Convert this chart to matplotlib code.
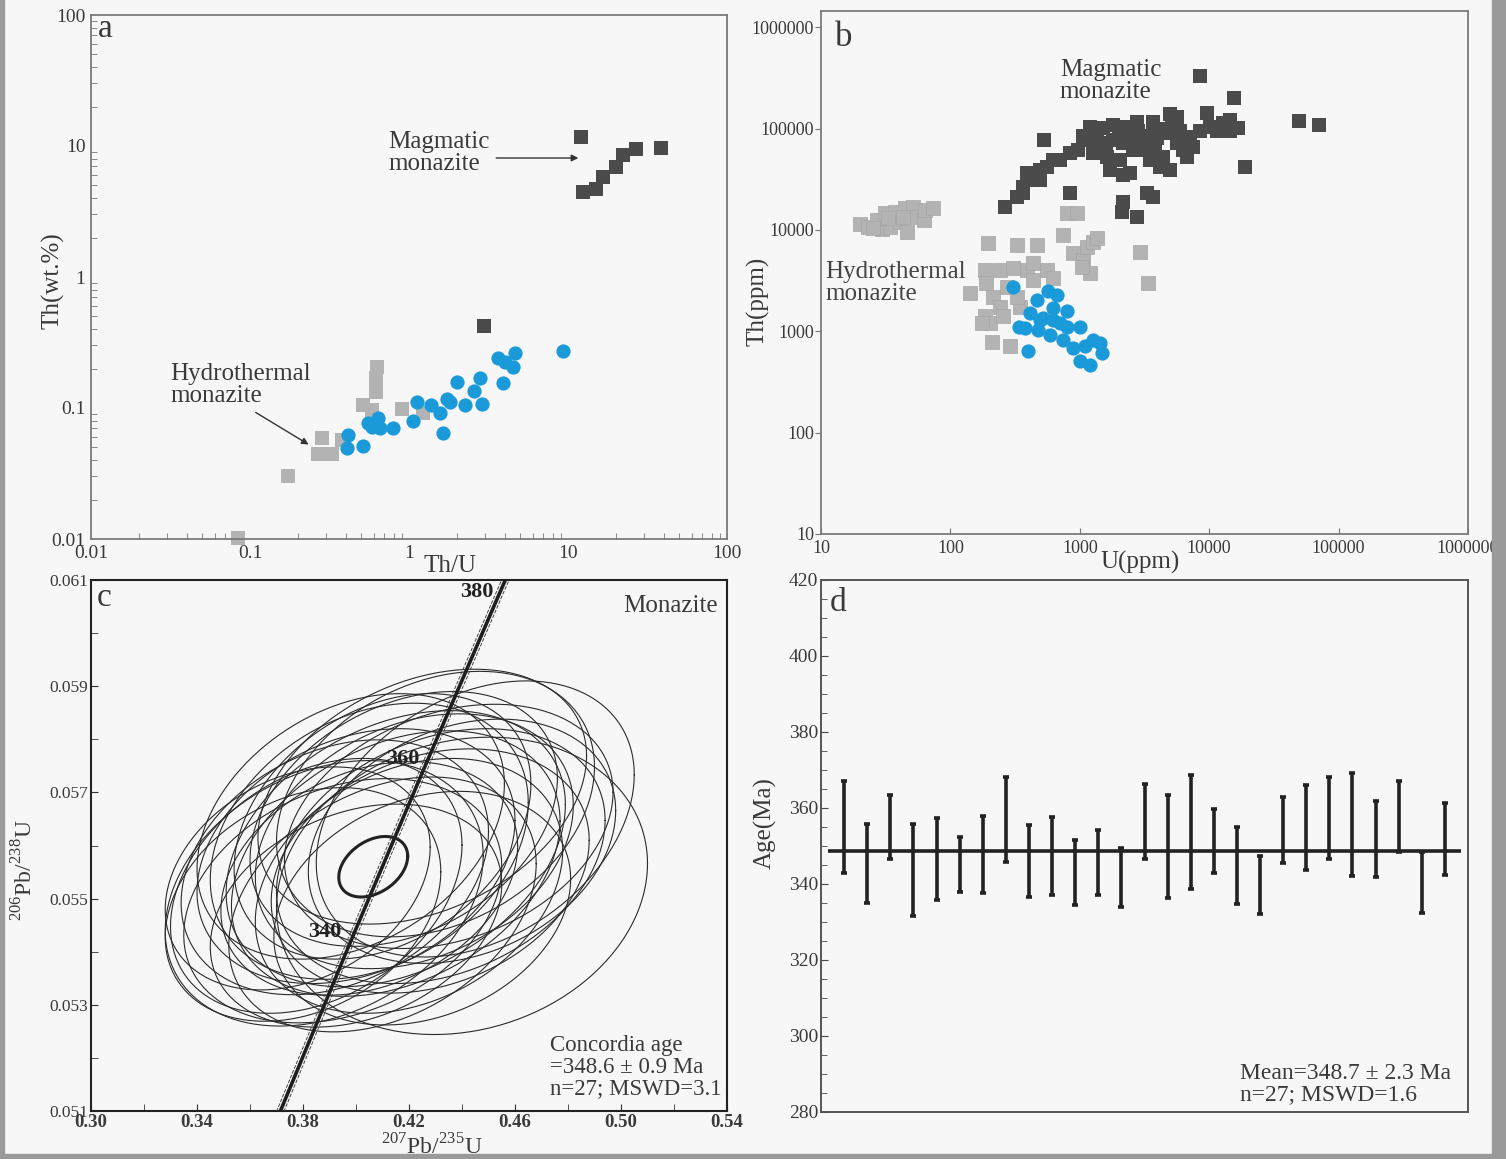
import numpy as np
import matplotlib
matplotlib.use('Agg')
import matplotlib.pyplot as plt
from matplotlib.patches import Rectangle
from matplotlib.ticker import FixedLocator, FixedFormatter, NullFormatter, NullLocator

plt.rcParams['font.family'] = ['Liberation Serif', 'DejaVu Serif']
plt.rcParams['mathtext.fontset'] = 'custom'
plt.rcParams['mathtext.rm'] = 'Liberation Serif'

# ---- panel a : Th/U vs Th(wt.%)
a_mag_thu = [12.1, 12.4, 14.9, 16.7, 19.9, 22.3, 26.9, 38.5, 2.97]
a_mag_th = [11.7, 4.43, 4.72, 5.82, 6.97, 8.47, 9.47, 9.66, 0.421]
a_hyd_thu = [0.084, 0.174, 0.269, 0.327, 0.282, 0.377, 0.627, 0.620, 0.620, 0.516, 0.582, 0.900, 1.23]
a_hyd_th = [0.0102, 0.0303, 0.0446, 0.0446, 0.0588, 0.057, 0.2066, 0.1694, 0.133, 0.1054, 0.0966, 0.0982, 0.0911]
a_blue_thu = [0.415, 0.406, 0.511, 0.555, 0.641, 0.582, 0.658, 0.791, 1.055, 1.117, 1.37, 1.57, 1.63,
              1.73, 1.81, 2.25, 2.01, 2.56, 2.80, 2.89, 3.88, 3.65, 4.02, 4.64, 4.53, 9.27]
a_blue_th = [0.0622, 0.0492, 0.0513, 0.0764, 0.0834, 0.0719, 0.0699, 0.0699, 0.080, 0.1117, 0.1054, 0.091, 0.0641,
             0.1165, 0.1116, 0.1054, 0.159, 0.1355, 0.1686, 0.1074, 0.156, 0.239, 0.225, 0.264, 0.2065, 0.2735]

# ---- panel b : U(ppm) vs Th(ppm)
b_mag_u = [264, 325, 366, 389, 437, 492, 555, 624, 703, 839, 973, 366, 492,
           532, 839, 2170, 2130, 2750, 3700, 3290, 8490, 15600, 18900, 49700, 70500,
           1200, 1520, 1816, 2300, 2750, 3700, 4980, 5600, 9570, 12860, 14480, 16790,
           1200, 1432, 1816, 2169, 2589, 3097, 3930, 4700, 5600, 7110, 8490, 11430, 14480, 1064,
           1272, 1615, 2046, 2442, 1713, 2169, 3490, 4170, 4980, 6700, 6310, 4420, 3290, 7540, 10150,
           1350, 2000, 2800, 3300, 4200, 1600, 2600, 3800, 5200, 6000]
b_mag_th = [17000, 21300, 26700, 36200, 31100, 39000, 42000, 49000, 49000, 57000, 61400, 23000, 31100,
            77100, 23300, 19000, 15100, 13500, 21300, 22900, 329000, 199000, 41500, 118000, 109000,
            104000, 101000, 108000, 104000, 117000, 117000, 140000, 131000, 141000, 112500, 121000, 101000,
            77100, 71500, 77100, 71500, 77100, 71500, 80500, 89700, 71500, 83000, 95000, 95000, 95000, 84700,
            57000, 52700, 49000, 36200, 39000, 34700, 49000, 42000, 39000, 52700, 61400, 52700, 61400, 66300, 104000,
            90000, 90000, 95000, 85000, 100000, 64000, 62000, 62000, 110000, 95000]
b_hyd_u = [20.0, 23.2, 26.9, 29.5, 31.2, 34.1, 37.3, 40.8, 44.6, 45.9, 51.6, 53.2, 62.3, 63.5, 73.8, 25.4, 33.1, 43.3,
           196, 325, 471, 747, 794, 946, 142, 185, 190, 214, 185, 202, 208, 289, 242, 306, 389, 272, 242, 345,
           325, 256, 437, 555, 624, 175, 891, 1064, 1130, 1272, 1199, 1035, 1352, 2918, 3390, 437]
b_hyd_th = [11500, 10800, 12500, 10100, 14600, 10800, 15100, 12100, 16400, 9620, 17000, 13500, 12500, 15700, 16400,
            10400, 13000, 13500,
            7400, 7110, 7110, 8930, 14600, 14600, 2380, 4030, 2990, 2200, 1400, 1210, 792, 708, 4030, 4200, 4030,
            2760, 1750, 1750, 2200, 1400, 3210, 4030, 3340, 1210, 5890, 5060, 6840, 7670, 3740, 4340, 8280, 6110,
            2990, 4700]
b_blue_u = [306, 465, 571, 663, 412, 624, 522, 792, 377, 478, 589, 703, 792, 1004, 747, 891, 1097, 1272, 1432,
            1476, 1004, 1199, 401, 492, 336, 624]
b_blue_th = [2760, 2040, 2470, 2290, 1510, 1690, 1350, 1570, 1080, 1035, 925, 1210, 1110, 1110, 825, 683, 708,
             825, 765, 610, 504, 467, 632, 1300, 1110, 1300]

# ---- panel c : concordia + ellipses (207Pb/235U, 206Pb/238U)
conc_x = [0.3714, 0.3977, 0.4255, 0.4539, 0.4612]
conc_y = [0.05099, 0.05416, 0.05743, 0.06072, 0.06155]
conc_ages = ['340', '360', '380']
conc_lab_x = [0.3883, 0.4177, 0.4457]
conc_lab_y = [0.05437, 0.05762, 0.06077]
ell_x = [0.425, 0.430, 0.418, 0.435, 0.410, 0.422, 0.440, 0.400, 0.415, 0.392, 0.428, 0.405, 0.385, 0.420,
         0.440, 0.395, 0.410, 0.380, 0.425, 0.400, 0.388, 0.415, 0.398, 0.432, 0.405, 0.378, 0.445]
ell_y = [0.05692, 0.05678, 0.05650, 0.05636, 0.05636, 0.05608, 0.05608, 0.05580, 0.05566, 0.05559, 0.05552,
         0.05538, 0.05524, 0.05524, 0.05524, 0.05496, 0.05489, 0.05489, 0.05482, 0.05468, 0.05510, 0.05594,
         0.05636, 0.05580, 0.05608, 0.05538, 0.05650]
ell_sx = [0.062, 0.060, 0.058, 0.062, 0.056, 0.060, 0.058, 0.060, 0.062, 0.058, 0.060, 0.056, 0.055, 0.058,
          0.070, 0.060, 0.058, 0.052, 0.056, 0.055, 0.060, 0.064, 0.058, 0.062, 0.060, 0.050, 0.060]
ell_sy = [0.0024, 0.0025, 0.0024, 0.0023, 0.0025, 0.0024, 0.0023, 0.0024, 0.0025, 0.0024, 0.0023, 0.0022,
          0.0024, 0.0024, 0.0028, 0.0023, 0.0024, 0.0022, 0.0022, 0.0021, 0.0025, 0.0026, 0.0025, 0.0024,
          0.0026, 0.0021, 0.0026]
ell_rho = [0.32, 0.28, 0.32, 0.28, 0.32, 0.28, 0.25, 0.28, 0.32, 0.28, 0.25, 0.28, 0.32, 0.28,
           0.15, 0.28, 0.32, 0.28, 0.25, 0.28, 0.28, 0.32, 0.32, 0.28, 0.28, 0.28, 0.32]
mean_ell = (0.4065, 0.05560, 0.013, 0.00057, 0.35)

# ---- panel d : weighted mean ages
d_hi = [367.0, 355.7, 363.5, 355.9, 357.4, 352.4, 358.0, 368.2, 355.6, 357.6, 351.7, 354.2, 349.5, 366.3,
        363.5, 368.6, 359.8, 354.9, 347.5, 363.0, 366.1, 368.2, 369.2, 361.8, 367.2, 348.5, 361.3]
d_lo = [343.0, 334.9, 346.7, 331.7, 335.7, 338.0, 337.7, 345.7, 336.7, 337.2, 334.4, 337.2, 334.0, 346.5,
        336.2, 338.6, 342.9, 334.7, 332.2, 345.5, 343.6, 346.5, 342.1, 341.8, 348.5, 332.5, 342.3]
d_mean = 348.7

W, H = 1506, 1159
BG = '#f7f7f7'
TXT = '#3a3a3a'
DARK = '#4b4b4b'
LIGHT = '#b3b3b3'
BLUE = '#1b9ad9'

fig = plt.figure(figsize=(W / 100, H / 100), dpi=100, facecolor=BG)


def box(l, t, r, b):
    ax = fig.add_axes([l / W, 1 - b / H, (r - l) / W, (b - t) / H])
    ax.set_facecolor(BG)
    return ax


# ================= a
ax = box(91, 15, 727, 539)
ax.set_xscale('log')
ax.set_yscale('log')
ax.set_xlim(0.01, 100)
ax.set_ylim(0.01, 100)
ax.scatter(a_hyd_thu, a_hyd_th, marker='s', s=105, color=LIGHT, lw=0, zorder=2, clip_on=False)
ax.scatter(a_mag_thu, a_mag_th, marker='s', s=105, color=DARK, lw=0, zorder=3)
ax.scatter(a_blue_thu, a_blue_th, marker='o', s=105, color=BLUE, lw=0, zorder=4)
dec = [0.01, 0.1, 1, 10, 100]
ax.xaxis.set_major_locator(FixedLocator(dec))
ax.xaxis.set_major_formatter(FixedFormatter(['0.01', '0.1', '1', '10', '100']))
ax.yaxis.set_major_locator(FixedLocator(dec))
ax.yaxis.set_major_formatter(FixedFormatter(['0.01', '0.1', '1', '10', '100']))
ax.xaxis.set_minor_formatter(NullFormatter())
ax.yaxis.set_minor_formatter(NullFormatter())
ax.tick_params(which='both', direction='in', top=False, right=False, colors='#777', labelcolor=TXT,
               labelsize=14)
ax.tick_params(which='major', length=0, pad=4)
ax.tick_params(which='minor', length=4)
for s in ax.spines.values():
    s.set_color('#7a7a7a')
    s.set_linewidth(1.3)
ax.set_xlabel('Th/U', fontsize=18, color=TXT)
ax.xaxis.set_label_coords(0.565, -0.031)
ax.set_ylabel('Th(wt.%)', fontsize=18, color=TXT)
ax.yaxis.set_label_coords(-0.041, 0.494)
ax.text(0.011, 0.958, 'a', transform=ax.transAxes, fontsize=24, color=TXT, va='baseline')
ax.text(0.74, 8.9, 'Magmatic\nmonazite', fontsize=18, color=TXT, va='center', linespacing=1.0)
ax.annotate('', xy=(12.1, 8.1), xytext=(3.4, 8.1),
            arrowprops=dict(arrowstyle='-|>', color='#333', lw=1.0, mutation_scale=10))
ax.text(0.0314, 0.150, 'Hydrothermal\nmonazite', fontsize=18, color=TXT, va='center', linespacing=1.0)
ax.annotate('', xy=(0.242, 0.0513), xytext=(0.105, 0.0948),
            arrowprops=dict(arrowstyle='-|>', color='#333', lw=1.0, mutation_scale=10))

# ================= b
ax = box(821, 11, 1468, 534)
ax.set_xscale('log')
ax.set_yscale('log')
ax.set_xlim(10, 1e6)
ax.set_ylim(10, 10 ** 6.16)
ax.scatter(b_hyd_u, b_hyd_th, marker='s', s=100, color=LIGHT, lw=0.5, edgecolor='#a5a5a5', zorder=2)
ax.scatter(b_mag_u, b_mag_th, marker='s', s=100, color=DARK, lw=0, zorder=3)
ax.scatter(b_blue_u, b_blue_th, marker='o', s=105, color=BLUE, lw=0, zorder=4)
bdec = [10, 100, 1000, 10000, 100000, 1000000]
blab = ['10', '100', '1000', '10000', '100000', '1000000']
ax.xaxis.set_major_locator(FixedLocator(bdec))
ax.xaxis.set_major_formatter(FixedFormatter(blab))
ax.yaxis.set_major_locator(FixedLocator(bdec))
ax.yaxis.set_major_formatter(FixedFormatter(blab))
ax.xaxis.set_minor_locator(NullLocator())
ax.yaxis.set_minor_locator(NullLocator())
ax.tick_params(axis='x', direction='in', length=4, colors='#777', labelcolor=TXT, labelsize=13, pad=4)
ax.tick_params(axis='y', direction='out', length=4, colors='#777', labelcolor=TXT, labelsize=13, pad=1)
for s in ax.spines.values():
    s.set_color('#7a7a7a')
    s.set_linewidth(1.3)
ax.set_xlabel('U(ppm)', fontsize=18, color=TXT)
ax.xaxis.set_label_coords(0.493, -0.032)
ax.set_ylabel('Th(ppm)', fontsize=18, color=TXT)
ax.yaxis.set_label_coords(-0.080, 0.444)
ax.text(0.022, 0.933, 'b', transform=ax.transAxes, fontsize=25, color=TXT, va='baseline')
ax.text(0.369, 0.866, 'Magmatic\nmonazite', transform=ax.transAxes, fontsize=18, color=TXT,
        va='center', linespacing=1.0)
ax.text(0.007, 0.480, 'Hydrothermal\nmonazite', transform=ax.transAxes, fontsize=18, color='#444',
        va='center', linespacing=1.0)

# ================= c
ax = box(91, 580, 727, 1111)
ax.set_xlim(0.30, 0.54)
ax.set_ylim(0.051, 0.061)
t = np.linspace(0, 2 * np.pi, 240)
for cx, cy, sx, sy, r in zip(ell_x, ell_y, ell_sx, ell_sy, ell_rho):
    ex = cx + sx * np.cos(t)
    ey = cy + sy * (r * np.cos(t) + np.sqrt(1 - r * r) * np.sin(t))
    ax.plot(ex, ey, color='#2b2b2b', lw=0.8, zorder=2)
cx, cy, sx, sy, r = mean_ell
ax.plot(cx + sx * np.cos(t), cy + sy * (r * np.cos(t) + np.sqrt(1 - r * r) * np.sin(t)),
        color='#222', lw=2.2, zorder=4)
ax.plot(conc_x, conc_y, color='#1e1e1e', lw=2.6, zorder=3)
ax.plot(np.array(conc_x) - 0.0014, conc_y, color='#444', lw=0.7, ls='--', zorder=3)
ax.plot(np.array(conc_x) + 0.0014, conc_y, color='#444', lw=0.7, ls='--', zorder=3)
for lab, lx, ly in zip(conc_ages, conc_lab_x, conc_lab_y):
    ax.text(lx, ly, lab, fontsize=16, fontweight='bold', color='#222', ha='center', va='center', zorder=5)
ax.xaxis.set_major_locator(FixedLocator([0.30, 0.34, 0.38, 0.42, 0.46, 0.50, 0.54]))
ax.xaxis.set_major_formatter(FixedFormatter(['0.30', '0.34', '0.38', '0.42', '0.46', '0.50', '0.54']))
ax.xaxis.set_minor_locator(FixedLocator([0.32, 0.36, 0.40, 0.44, 0.48, 0.52]))
ax.yaxis.set_major_locator(FixedLocator([0.051, 0.053, 0.055, 0.057, 0.059, 0.061]))
ax.yaxis.set_major_formatter(FixedFormatter(['0.051', '0.053', '0.055', '0.057', '0.059', '0.061']))
ax.yaxis.set_minor_locator(FixedLocator([0.052, 0.054, 0.056, 0.058, 0.060]))
ax.tick_params(which='both', direction='in', top=False, right=False, colors='#333', labelcolor=TXT)
ax.tick_params(axis='y', labelsize=12.5)
ax.tick_params(axis='x', labelsize=13.5)
ax.tick_params(which='major', length=5, pad=2)
ax.tick_params(which='minor', length=5)
for lbl in ax.get_xticklabels():
    lbl.set_fontweight('bold')
for s in ax.spines.values():
    s.set_color('#222')
    s.set_linewidth(1.5)
ax.set_xlabel('$^{207}$Pb/$^{235}$U', fontsize=17, color=TXT)
ax.xaxis.set_label_coords(0.536, -0.043)
ax.set_ylabel('$^{206}$Pb/$^{238}$U', fontsize=17, color=TXT)
ax.yaxis.set_label_coords(-0.084, 0.454)
ax.text(0.009, 0.951, 'c', transform=ax.transAxes, fontsize=24, color=TXT, va='baseline')
ax.text(0.985, 0.951, 'Monazite', transform=ax.transAxes, fontsize=18, color=TXT, ha='right', va='center')
ax.text(0.722, 0.022, 'Concordia age\n=348.6 ± 0.9 Ma\nn=27; MSWD=3.1', transform=ax.transAxes,
        fontsize=16.5, color=TXT, va='bottom', linespacing=1.05)

# ================= d
ax = box(821, 580, 1468, 1112)
xs = np.arange(1, len(d_hi) + 1)
hi = np.array(d_hi)
lo = np.array(d_lo)
ax.errorbar(xs, (hi + lo) / 2, yerr=(hi - lo) / 2, fmt='none', ecolor='#222', elinewidth=2.6,
            capsize=2.2, capthick=2.6, zorder=3)
ax.hlines(d_mean, 0.3, 27.7, color='#222', lw=2.6, zorder=2)
ax.set_xlim(0, 28)
ax.set_ylim(280, 420)
ax.xaxis.set_major_locator(NullLocator())
ax.yaxis.set_major_locator(FixedLocator(list(range(280, 421, 20))))
ax.yaxis.set_minor_locator(FixedLocator([v for v in range(285, 420, 5) if v % 20]))
ax.tick_params(which='both', direction='in', top=False, right=False, colors='#444', labelcolor=TXT,
               labelsize=14)
ax.tick_params(which='major', length=5, pad=2)
ax.tick_params(which='minor', length=4)
for s in ax.spines.values():
    s.set_color('#555')
    s.set_linewidth(1.4)
ax.set_ylabel('Age(Ma)', fontsize=18, color=TXT)
ax.yaxis.set_label_coords(-0.068, 0.543)
ax.text(0.014, 0.942, 'd', transform=ax.transAxes, fontsize=24, color=TXT, va='baseline')
ax.text(0.648, 0.012, 'Mean=348.7 ± 2.3 Ma\nn=27; MSWD=1.6', transform=ax.transAxes,
        fontsize=17, color=TXT, va='bottom', linespacing=1.05)

# gray frame round the picture, drawn over everything
for rect in [(0, 0, 4, H), (W - 14, 0, 14, H), (0, 0, W, 5)]:
    fig.add_artist(Rectangle((rect[0] / W, rect[1] / H), rect[2] / W, rect[3] / H,
                             transform=fig.transFigure, color='#9a9a9a', zorder=10))

fig.savefig('out.png', dpi=100, facecolor=BG)
